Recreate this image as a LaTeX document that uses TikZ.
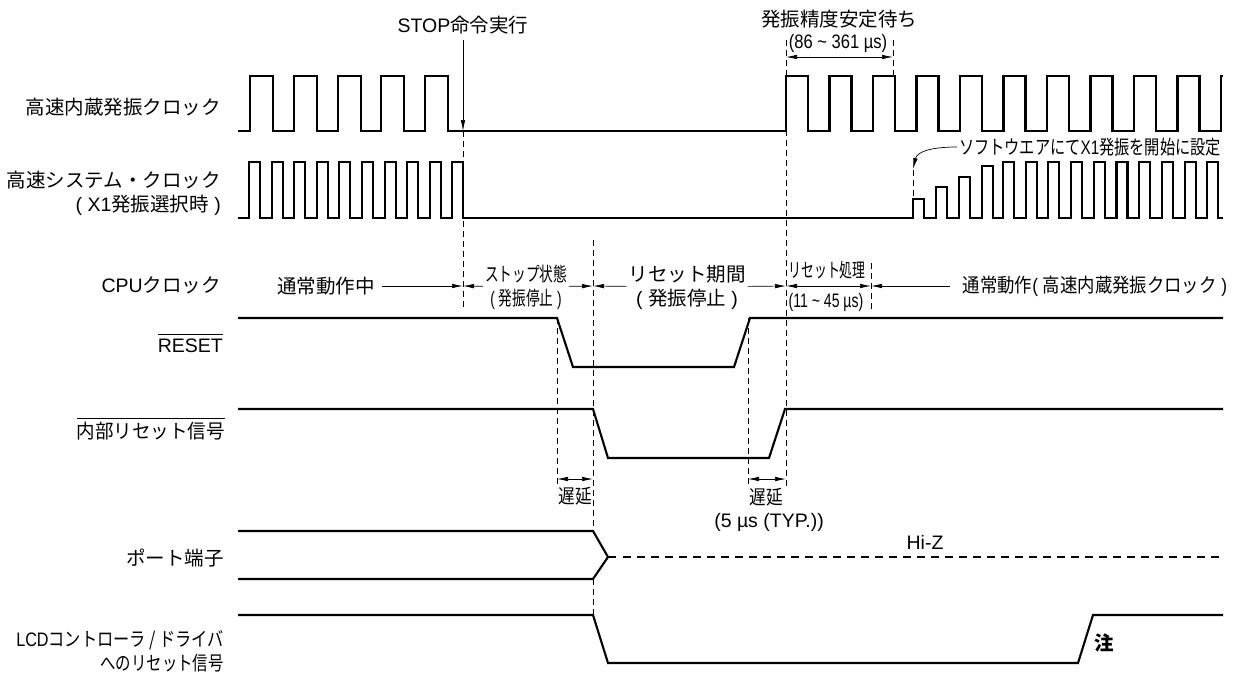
\documentclass[tikz,border=0pt]{standalone}
\usepackage{fontspec}
\setmainfont{Liberation Sans}
\newfontfamily\jpfont{Noto Sans CJK JP}
\usetikzlibrary{arrows.meta,positioning,calc}
\newcommand{\jp}[1]{{\jpfont #1}}
\newcommand{\narrow}[2][0.72]{\scalebox{#1}[1]{#2}}
\begin{document}
\begin{tikzpicture}[x=1pt,y=-1pt,
          sig/.style={line width=2.1pt,black,line join=miter},
          hiz/.style={line width=2.1pt,dash pattern=on 8pt off 6pt},
          guide/.style={line width=0.7pt,dash pattern=on 6pt off 4pt},
          dim/.style={line width=0.7pt},
          dimto/.style={dim,-{Latex[length=11pt,width=4.5pt]}},
          dimboth/.style={dim,{Latex[length=11pt,width=4.5pt]}-{Latex[length=11pt,width=4.5pt]}},
          lbl/.style={font=\fontsize{19.5}{24}\selectfont,inner sep=0pt,align=center},
          row/.style={lbl,anchor=east,align=right},
          gap/.style={outer sep=#1}]
        \useasboundingbox (0,0) rectangle (1244,673);
        % row labels
        \node[row] (hocolbl) at (221,107) {\jp{高速内蔵発振クロック}};
        \node[row] (hsclbl) at (221,193) {\jp{高速システム・クロック}\\( X1\jp{発振選択時} )\hspace{3pt}};
        \node[row] (cpulbl) at (221,285) {CPU\jp{クロック}};
        \node[row,anchor=base east] (rstlbl) at (223,352) {$\overline{\mbox{\rule{0pt}{16.5pt}RESET}}$};
        \node[row,anchor=base east] (intlbl) at (225,438) {\narrow[0.95]{$\overline{\mbox{\rule{0pt}{18pt}\jp{内部リセット信号}}}$}};
        \node[row] (portlbl) at (224,558) {\jp{ポート端子}};
        \node[row] (lcdlbl) at (224,651) {\narrow[0.83]{LCD\jp{コントローラ / ドライバ}}\\\narrow[0.79]{\jp{へのリセット信号}}};
        % top labels
        \node[lbl] (stoplbl) at (463,25) {STOP\jp{命令実行}};
        \node[lbl] (waitlbl) at (839,19) {\jp{発振精度安定待ち}};
        \node[lbl] (waittime) at (838,43) {\narrow[0.85]{(86 \textasciitilde{} 361 µs)}};
        \node[lbl] (softlbl) at (1090,147) {\narrow[0.78]{\jp{ソフトウエアにて}X1\jp{発振を開始に設定}}};
        % CPU row
        \node[lbl,gap=7pt] (cpunorm) at (326,286) {\jp{通常動作中}};
        \node[lbl,gap=2pt] (cpustop) at (526,287) {\narrow[0.7]{\jp{ストップ状態}}\\\narrow[0.7]{( \jp{発振停止} )}};
        \node[lbl,gap=2pt] (cpurst) at (687,287) {\jp{リセット期間}\\( \jp{発振停止} )};
        \node[lbl] (cpuproc) at (827,270) {\narrow[0.66]{\jp{リセット処理}}};
        \node[lbl] (cputime) at (826,302) {\narrow[0.72]{(11 \textasciitilde{} 45 µs)}};
        \node[lbl,gap=13pt] (cpurun) at (1095,286) {\narrow[0.89]{\jp{通常動作}( \jp{高速内蔵発振クロック} )}};
        % delay and others
        \node[lbl] (dlyA) at (575,496) {\narrow[0.85]{\jp{遅延}}};
        \node[lbl] (dlyB) at (766,497) {\narrow[0.85]{\jp{遅延}}};
        \node[lbl] (dlytime) at (769,522) {(5 µs (TYP.))};
        \node[lbl] (hizlbl) at (925,542) {Hi-Z};
        \node[lbl] (notelbl) at (1104,643) {\jp{\bfseries 注}};
        % time marks
        \coordinate (stopT) at (463,131);
        \coordinate (cpuA) at (463,286);
        \coordinate (cpuB) at (593,286);
        \coordinate (cpuC) at (786,286);
        \coordinate (cpuD) at (871,286);
        \coordinate (waitA) at (786,57);
        \coordinate (waitB) at (893,57);
        \coordinate (dlyAa) at (557,479);
        \coordinate (dlyAb) at (593,479);
        \coordinate (dlyBa) at (748,479);
        \coordinate (dlyBb) at (786,479);
        \coordinate (softT) at (913,169);
        % guides
        \draw[guide] (463,131) -- (463,308);
        \draw[guide] (593,240) -- (593,531);
        \draw[guide] (593,579) -- (593,615);
        \draw[guide] (786,40) -- (786,488);
        \draw[guide] (893,40) -- (893,76);
        \draw[guide] (871,263) -- (871,310);
        \draw[guide] (557,318) -- (557,488);
        \draw[guide] (748,318) -- (748,488);
        \draw[guide] (913,170) -- (913,199);
        % arrows
        \draw[dimto] (stoplbl.south |- 0,40) -- (stopT);
        \draw[dimboth] (waitA) -- (waitB);
        \draw[dimto] (cpunorm) -- (cpuA);
        \draw[dimto] (cpustop) -- (cpuA);
        \draw[dimto] (cpustop) -- (cpuB);
        \draw[dimto] (cpurst) -- (cpuB);
        \draw[dimto] (cpurst) -- (cpuC);
        \draw[dimboth] (cpuC) -- (cpuD);
        \draw[dimto] (cpurun) -- (cpuD);
        \draw[dimboth] (dlyAa) -- (dlyAb);
        \draw[dimboth] (dlyBa) -- (dlyBb);
        \draw[dimto] (softlbl.west) ++(-2,0) .. controls (930,147) and (917,152) .. (softT);
        % high speed internal clock
        \draw[sig] (238,131) foreach \x in {250,294,338,381,425} {
            -- (\x,131) -- (\x,76) -- ({\x+23},76) -- ({\x+23},131) }
          foreach \x in {786,829.5,873,916.5,960,1003.5,1047,1090.5,1134,1177.5} {
            -- (\x,131) -- (\x,76) -- ({\x+22},76) -- ({\x+22},131) }
          -- (1221,131) -- (1221,76) -- (1223,76);
        % high speed system clock
        \draw[sig] (238,218) foreach \x in {249,271.6,294.2,316.8,339.4,362,384.6,407.2,429.8,452.4} {
            -- (\x,218) -- (\x,162) -- ({\x+11},162) -- ({\x+11},218) }
          foreach \x/\y in {913/199,936/187,959/177,982/166} {
            -- (\x,218) -- (\x,\y) -- ({\x+11},\y) -- ({\x+11},218) }
          foreach \x in {1003,1025.7,1048.4,1071.1,1093.8,1116.5,1139.2,1161.9,1184.6,1207.3} {
            -- (\x,218) -- (\x,162) -- ({\x+11},162) -- ({\x+11},218) }
          -- (1223,218);
        % RESET
        \draw[sig] (238,318) -- (557,318) -- (573,367) -- (734,367) -- (750,318) -- (1223,318);
        % internal reset
        \draw[sig] (238,409) -- (593,409) -- (608,458) -- (769,458) -- (785,409) -- (1223,409);
        % port
        \draw[sig] (238,531) -- (593,531) -- (608,557) -- (593,579) -- (238,579);
        \draw[sig] (608,557) -- (616,557);
        \draw[hiz] (623,557) -- (1223,557);
        % LCD
        \draw[sig] (238,615) -- (593,615) -- (608,663) -- (1078,663) -- (1093,615) -- (1223,615);
      \end{tikzpicture}
\end{document}
